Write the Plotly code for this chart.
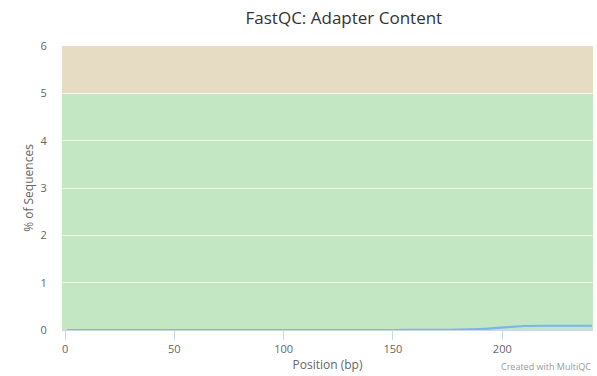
import plotly.graph_objects as go

# Adapter content profile along the read (% of sequences)
positions = [1, 25, 50, 75, 100, 125, 150, 165, 175, 185, 192, 198, 204, 210, 220, 230, 241]
adapter_pct = [0.0, 0.0, 0.0, 0.0, 0.0, 0.0, 0.0, 0.002, 0.005, 0.012, 0.025, 0.045, 0.065, 0.085, 0.09, 0.09, 0.09]

# Pass / warn bands
band_green = (0, 5)
band_warn = (5, 6)

x_range = [-1.4, 241.5]
y_range = [0, 6]

fig = go.Figure()

fig.add_shape(type="rect", xref="paper", yref="y", x0=0, x1=1,
              y0=band_green[0], y1=band_green[1], fillcolor="#c3e6c3",
              line_width=0, layer="below")
fig.add_shape(type="rect", xref="paper", yref="y", x0=0, x1=1,
              y0=band_warn[0], y1=band_warn[1], fillcolor="#e6dcc3",
              line_width=0, layer="below")

fig.add_trace(go.Scatter(
    x=positions, y=adapter_pct, mode="lines",
    line=dict(color="#7cb5ec", width=2.2, shape="spline", smoothing=0.6),
    hoverinfo="x+y", showlegend=False,
))

font_family = "Open Sans, DejaVu Sans, sans-serif"

fig.update_layout(
    width=597, height=376,
    margin=dict(l=62, r=4, t=46, b=46),
    paper_bgcolor="white",
    plot_bgcolor="white",
    font=dict(family=font_family, color="#666666", size=11),
    title=dict(text="FastQC: Adapter Content", x=0.576, xanchor="center",
               y=0.952, yanchor="middle",
               font=dict(size=17, color="#333333", family=font_family)),
    xaxis=dict(
        range=x_range, tickvals=[0, 50, 100, 150, 200],
        showgrid=False, zeroline=False,
        showline=True, linecolor="#ccd6eb", linewidth=1,
        ticks="outside", ticklen=9, tickcolor="#ccd6eb", tickwidth=1,
        tickfont=dict(size=11, color="#666666"),
        title=dict(text="Position (bp)", font=dict(size=12, color="#666666"), standoff=3),
    ),
    yaxis=dict(
        range=y_range, tickvals=[0, 1, 2, 3, 4, 5, 6],
        showgrid=True, gridcolor="rgba(255,255,255,0.7)", gridwidth=1,
        zeroline=False, showline=False,
        ticks="outside", ticklen=12, tickcolor="rgba(0,0,0,0)",
        tickfont=dict(size=11, color="#666666"),
        title=dict(text="% of Sequences", font=dict(size=12, color="#666666"), standoff=4),
    ),
    annotations=[dict(
        text="Created with MultiQC", xref="paper", yref="paper",
        x=1.0, y=-0.1, xanchor="right", yanchor="top", showarrow=False,
        font=dict(size=9, color="#999999", family=font_family),
    )],
)

fig.write_html("out.html")
